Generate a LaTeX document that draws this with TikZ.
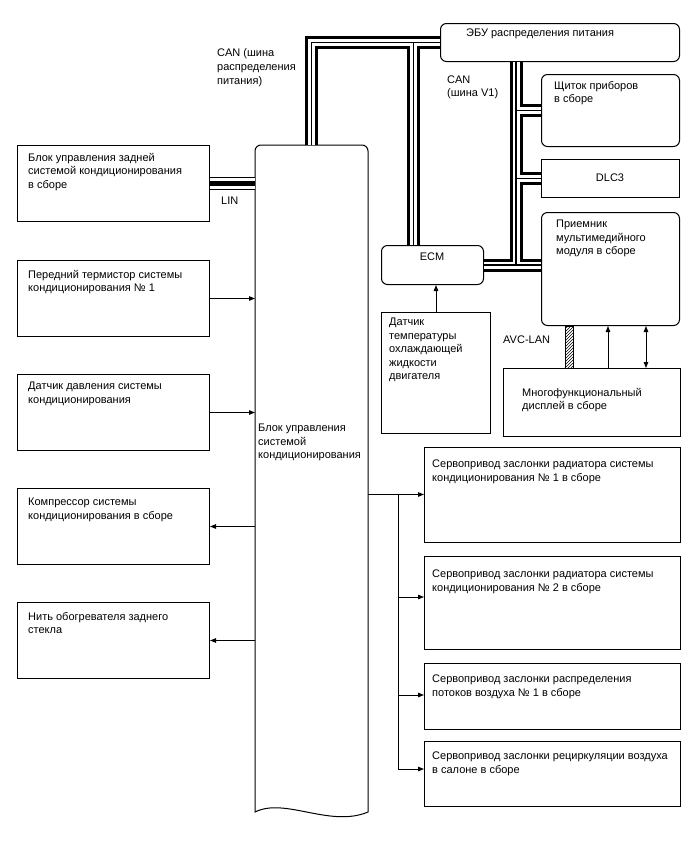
\documentclass[tikz,border=0pt]{standalone}
\usepackage{fontspec}
\setmainfont{Liberation Sans}
\usetikzlibrary{arrows.meta,patterns}
\begin{document}
\begin{tikzpicture}[x=1pt,y=-1pt,
  box/.style={draw, line width=1pt, rectangle, anchor=north west, inner sep=0pt, fill=white},
  rbox/.style={box, rounded corners=6pt},
  txt/.style={anchor=north west, inner sep=0pt, align=left, font=\fontsize{11}{13.5}\selectfont},
  ctxt/.style={inner sep=0pt, font=\fontsize{11}{13.5}\selectfont},
  arr/.style={line width=1pt, -{Triangle[length=6pt,width=4.5pt]}},
  darr/.style={line width=1pt, {Triangle[length=6pt,width=4.5pt]}-{Triangle[length=6pt,width=4.5pt]}},
  canout/.style={line width=13pt, black, line join=miter},
  canmid/.style={line width=7pt, white, line join=miter},
  cancore/.style={line width=1.2pt, black, line join=miter},
  linout/.style={line width=12.5pt, black},
  linmid/.style={line width=10.5pt, white},
  lincore/.style={line width=5pt, black},
]
\useasboundingbox (0,0) rectangle (688,852);

% main control block (frame for anchors)
\node[inner sep=0pt, outer sep=0pt, minimum width=113pt, minimum height=667pt, anchor=north west] (main) at (255,145) {};
\draw[line width=1pt] (main.south west) [rounded corners=6pt] -- (main.north west) -- (main.north east) [sharp corners] -- (main.south east)
  .. controls +(-38,16) and +(30,-15) .. (main.south west) -- cycle;
\node[txt] (maint) at (258,424) {Блок управления\\системой\\кондиционирования};

% left boxes
\node[box, minimum width=192pt, minimum height=76pt] (rear) at (17,145) {};
\node[box, minimum width=192pt, minimum height=76pt] (therm) at (17,260) {};
\node[box, minimum width=192pt, minimum height=76pt] (press) at (17,374) {};
\node[box, minimum width=192pt, minimum height=76pt] (comp) at (17,488) {};
\node[box, minimum width=192pt, minimum height=76pt] (heat) at (17,602) {};
\node[txt] (reart) at (28,153) {Блок управления задней\\системой кондиционирования\\в сборе};
\node[txt] (thermt) at (28,270) {Передний термистор системы\\кондиционирования № 1};
\node[txt] (presst) at (28,382) {Датчик давления системы\\кондиционирования};
\node[txt] (compt) at (28,498) {Компрессор системы\\кондиционирования в сборе};
\node[txt] (heatt) at (28,612) {Нить обогревателя заднего\\стекла};

% top right boxes
\node[rbox, minimum width=239pt, minimum height=38pt] (ecu) at (440,23) {};
\node[txt] (ecut) at (466,29) {ЭБУ распределения питания};
\node[rbox, minimum width=138pt, minimum height=72pt] (shch) at (541,74) {};
\node[txt] (shcht) at (554,81) {Щиток приборов\\в сборе};
\node[box, minimum width=138pt, minimum height=38pt] (dlc) at (541,159) {};
\node[ctxt] (dlct) at (610,178) {DLC3};
\node[rbox, minimum width=138pt, minimum height=113pt] (recv) at (541,212) {};
\node[txt] (recvt) at (556,220) {Приемник\\мультимедийного\\модуля в сборе};
\node[rbox, minimum width=102pt, minimum height=39pt] (ecm) at (381,245) {};
\node[ctxt] (ecmt) at (432,257) {ECM};
\node[box, minimum width=109pt, minimum height=121pt] (dat) at (381,312) {};
\node[txt] (datt) at (389,318) {Датчик\\температуры\\охлаждающей\\жидкости\\двигателя};
\node[box, minimum width=177pt, minimum height=68pt] (mfd) at (503,368) {};
\node[txt] (mfdt) at (522,388) {Многофункциональный\\дисплей в сборе};

% right boxes
\node[box, minimum width=256pt, minimum height=95pt] (s1) at (424,447) {};
\node[box, minimum width=256pt, minimum height=93pt] (s2) at (424,556) {};
\node[box, minimum width=256pt, minimum height=66pt] (s3) at (424,663) {};
\node[box, minimum width=256pt, minimum height=65pt] (s4) at (424,741) {};
\node[txt] (s1t) at (432,460) {Сервопривод заслонки радиатора системы\\кондиционирования № 1 в сборе};
\node[txt] (s2t) at (432,570) {Сервопривод заслонки радиатора системы\\кондиционирования № 2 в сборе};
\node[txt] (s3t) at (432,675) {Сервопривод заслонки распределения\\потоков воздуха № 1 в сборе};
\node[txt] (s4t) at (432,752) {Сервопривод заслонки рециркуляции воздуха\\в салоне в сборе};

% bus labels
\node[txt, font=\fontsize{11}{14}\selectfont] (canp) at (217,48) {CAN (шина\\распределения\\питания)};
\node[txt, font=\fontsize{11}{12.5}\selectfont] (canv) at (447,76) {CAN\\(шина V1)};
\node[txt] (lin) at (221,197) {LIN};
\node[txt] (avc) at (503,336) {AVC-LAN};

% bus junction coordinates
\coordinate (j1) at (main.north |- ecu.west);
\coordinate (j2) at (413.5,0);
\coordinate (v) at (516,0);

% CAN buses (layered)
\foreach \lay in {canout,canmid,cancore}{
  \draw[\lay] (main.north) -- (j1) -- (ecu.west);
  \draw[\lay] (j2 |- ecu.west) -- (j2 |- ecm.north);
  \draw[\lay] (v |- ecu.south) -- (v |- ecm.east);
  \draw[\lay] (v |- shch.west) -- (shch.west);
  \draw[\lay] (v |- dlc.west) -- (dlc.west);
  \draw[\lay] (ecm.east) -- (recv.west |- ecm.east);
}
% LIN bus
\foreach \lay in {linout,linmid,lincore}{
  \draw[\lay] (rear.east) -- (rear.east -| main.west);
}

% signal arrows, left
\draw[arr] (therm.east) -- (therm.east -| main.west);
\draw[arr] (press.east) -- (press.east -| main.west);
\draw[arr] (comp.east -| main.west) -- (comp.east);
\draw[arr] (heat.east -| main.west) -- (heat.east);

% signal arrows, right
\coordinate (d1) at (398,494.5);
\coordinate (d2) at (398,597);
\coordinate (d3) at (398,695);
\coordinate (d4) at (398,769);
\draw[arr] (main.east |- d1) -- (d1 -| s1.west);
\draw[line width=1pt] (d1) -- (d4);
\draw[arr] (d2) -- (d2 -| s2.west);
\draw[arr] (d3) -- (d3 -| s3.west);
\draw[arr] (d4) -- (d4 -| s4.west);

% ECM sensor
\coordinate (ds) at (436,0);
\draw[arr] (ds |- dat.north) -- (ds |- ecm.south);

% AVC-LAN and display links
\coordinate (a1) at (565,0);
\coordinate (a2) at (573,0);
\draw[line width=0.8pt, pattern=north east lines] (a1 |- recv.south) rectangle (a2 |- mfd.north);
\coordinate (m1) at (608,0);
\coordinate (m2) at (646,0);
\draw[arr] (m1 |- mfd.north) -- (m1 |- recv.south);
\draw[darr] (m2 |- mfd.north) -- (m2 |- recv.south);
\end{tikzpicture}
\end{document}
